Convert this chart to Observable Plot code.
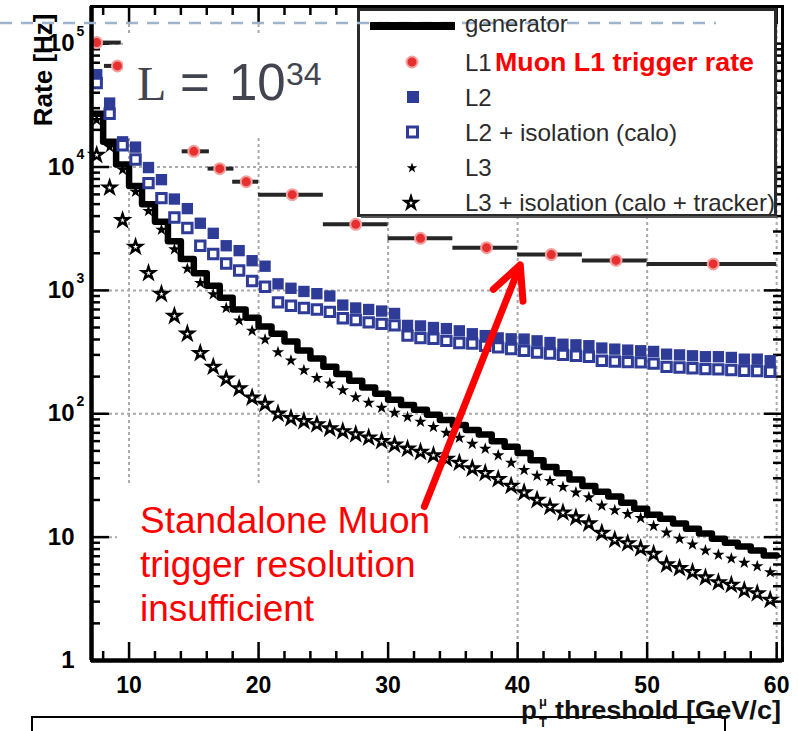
<!DOCTYPE html>
<html><head><meta charset="utf-8">
<script src="https://cdn.jsdelivr.net/npm/d3@7"></script>
<script src="https://cdn.jsdelivr.net/npm/@observablehq/plot@0.6"></script>
<style>
html,body{margin:0;padding:0;background:#fff;}
#wrap{position:relative;width:798px;height:731px;overflow:hidden;font-family:"Liberation Sans",Arial,sans-serif;background:#fff;}
#wrap > svg{position:absolute;left:0;top:0;}
</style></head><body><div id="wrap"></div>
<script>
// ---- data ----
const binCenters = [7.5,8.5,9.5,10.5,11.5,12.5,13.5,14.5,15.5,16.5,17.5,18.5,19.5,20.5,21.5,22.5,23.5,24.5,25.5,26.5,27.5,28.5,29.5,30.5,31.5,32.5,33.5,34.5,35.5,36.5,37.5,38.5,39.5,40.5,41.5,42.5,43.5,44.5,45.5,46.5,47.5,48.5,49.5,50.5,51.5,52.5,53.5,54.5,55.5,56.5,57.5,58.5,59.5];
const generator = [27000,16000,10500,7000,5000,3600,2500,1800,1380,1090,870,700,600,510,445,385,325,280,240,210,185,163,145,130,118,108,98,89,81,74,68,60,54,48,42,37,33,29.3,26,23.3,21.3,19,17,15.2,14.1,12.9,11.7,10.7,9.7,9.0,8.4,7.8,7.1];
const l2 = [56000,33000,16000,14500,9900,7900,5500,4600,3500,2900,2300,2100,1740,1570,1130,1040,980,940,900,760,720,700,680,650,520,515,500,490,470,445,430,412,405,403,390,378,366,362,356,341,334,328,324,320,304,300,295,290,290,286,277,277,269];
const l2iso = [48000,27000,15000,11500,7400,5600,3900,3200,2300,1970,1650,1450,1190,1070,800,750,720,700,670,595,575,550,535,520,430,410,405,390,375,370,355,345,335,324,314,308,300,295,290,269,265,262,261,255,240,237,234,230,229,226,223,222,219];
const l3 = [24000,14500,9500,6300,4400,3100,2150,1500,1150,930,720,570,470,400,315,270,225,195,176,155,136,123,112,102,94,86,78,70,64,57,52,46,40,35,31.5,28.5,25.5,23,21,18,16.5,15.4,14.3,12.3,10.9,9.7,8.7,7.8,7.2,6.7,6.2,5.8,5.2];
const l3iso = [12500,6800,3700,2250,1380,935,620,445,310,240,192,160,135,120,100,92,87,82,76,72,68,64,60,56,52,49,46,43,40,36,33,29.5,26,23,20,17.6,15.8,14.4,12.9,10.8,9.5,8.9,8.1,7.3,6.0,5.6,5.2,4.7,4.3,4.1,3.7,3.5,3.1];
// L1 trigger rate: marker position, value, bin low, bin high
const l1X    = [7.5, 9.1, 15.0, 17.0, 19.05, 22.6, 27.5, 32.5, 37.6, 42.6, 47.6, 55.1];
const l1Rate = [102000, 66000, 13400, 9700, 7600, 5970, 3430, 2640, 2220, 1950, 1750, 1640];
const l1Lo   = [7.1, 8.1, 14.1, 16.1, 18.0, 20.0, 25, 30, 35, 40, 45, 50];
const l1Hi   = [9.4, 9.4, 16.2, 18.1, 20.0, 25.0, 30, 35, 40, 45, 50, 60];
// axes
const xMajor = [10,20,30,40,50,60];
const xMinor = [8,12,14,16,18,22,24,26,28,32,34,36,38,42,44,46,48,52,54,56,58];
const yMajor = [1,10,100,1000,10000,100000];
const yLabels = ["1","10","10","10","10","10"];
const yExp = ["","","2","3","4","5"];
const yMinor = [2,3,4,5,6,7,8,9,20,30,40,50,60,70,80,90,200,300,400,500,600,700,800,900,2000,3000,4000,5000,6000,7000,8000,9000,20000,30000,40000,50000,60000,70000,80000,90000];
// annotation arrow (data coords)
const arrowTail = {x: 32.8, y: 17.7};
const arrowTip  = {x: 40.2, y: 1610};

// ---- tables ----
const genStep = binCenters.map((c,i)=>({x:c-0.5, y:generator[i]})).concat([{x:binCenters[binCenters.length-1]+0.5, y:generator[generator.length-1]}]);
const rows = binCenters.map((c,i)=>({x:c, l2:l2[i], l2iso:l2iso[i], l3:l3[i], l3iso:l3iso[i]}));
const l1 = l1X.map((x,i)=>({x, v:l1Rate[i], lo:l1Lo[i], hi:l1Hi[i]}));

const W=798, H=731, mL=91, mR=16, mT=6, mB=71;
const plotW = W-mL-mR, plotH = H-mT-mB;
const xDom = [7.1, 60.45], yDom = [1, 2e5];
const blue = "#2e3b97", grid = {stroke:"#a9a9a9", strokeWidth:2, strokeDasharray:"3,3"};
const font = "Liberation Sans, Arial, sans-serif";

const main = Plot.plot({
  width:W, height:H, marginLeft:mL, marginRight:mR, marginTop:mT, marginBottom:mB,
  style:{fontFamily:font, background:"white", color:"black"},
  x:{domain:xDom, axis:null},
  y:{type:"log", domain:yDom, axis:null},
  marks:[
    Plot.ruleX(xMajor, grid),
    Plot.ruleY(yMajor.slice(1), grid),
    // ticks inward
    Plot.tickY(yMajor, {y:d=>d, insetRight:plotW-18, stroke:"black", strokeWidth:2.5}),
    Plot.tickY(yMinor, {y:d=>d, insetRight:plotW-9, stroke:"black", strokeWidth:2.5}),
    Plot.tickY(yMajor, {y:d=>d, insetLeft:plotW-18, stroke:"black", strokeWidth:2.5}),
    Plot.tickY(yMinor, {y:d=>d, insetLeft:plotW-9, stroke:"black", strokeWidth:2.5}),
    Plot.tickX(xMajor, {x:d=>d, insetTop:plotH-18, stroke:"black", strokeWidth:2.5}),
    Plot.tickX(xMinor, {x:d=>d, insetTop:plotH-9, stroke:"black", strokeWidth:2.5}),
    Plot.tickX(xMajor, {x:d=>d, insetBottom:plotH-18, stroke:"black", strokeWidth:2.5}),
    Plot.tickX(xMinor, {x:d=>d, insetBottom:plotH-9, stroke:"black", strokeWidth:2.5}),
    // data
    Plot.ruleY(l1, {y:"v", x1:"lo", x2:"hi", stroke:"#262626", strokeWidth:4, clip:true}),
    Plot.line(genStep, {x:"x", y:"y", curve:"step-after", stroke:"black", strokeWidth:6.5, clip:true}),
    Plot.dot(rows, {x:"x", y:"l3iso", symbol:"star", r:3.9, fill:"white", stroke:"black", strokeWidth:2.4}),
    Plot.dot(rows, {x:"x", y:"l3", symbol:"star", r:3.9, fill:"black"}),
    Plot.dot(rows, {x:"x", y:"l2", symbol:"square", r:6.4, fill:blue}),
    Plot.dot(rows, {x:"x", y:"l2iso", symbol:"square", r:5.3, fill:"white", stroke:blue, strokeWidth:3}),
    Plot.dot(l1, {x:"x", y:"v", r:5.5, fill:"#e63030", stroke:"#f2a0a0", strokeWidth:2}),
    // frame & axes
    Plot.frame({stroke:"black", strokeWidth:3}),
    Plot.ruleX([xDom[0]], {stroke:"black", strokeWidth:4.5}),
    Plot.ruleY([yDom[0]], {stroke:"black", strokeWidth:4.5}),
    Plot.text(yMajor, {y:d=>d, frameAnchor:"left", dx:-17, textAnchor:"end", text:(d,i)=>yLabels[i], fontSize:24, fontWeight:"bold"}),
    Plot.text(yMajor, {y:d=>d, frameAnchor:"left", dx:-15, dy:-12, textAnchor:"start", text:(d,i)=>yExp[i], fontSize:14, fontWeight:"bold"}),
    Plot.text(xMajor, {x:d=>d, frameAnchor:"bottom", dy:32, text:d=>String(d), fontSize:23, fontWeight:"bold"}),
    Plot.text(["Rate [Hz]"], {frameAnchor:"top-left", dx:-58, dy:7, rotate:-90, textAnchor:"end", text:d=>d, fontSize:26, fontWeight:"bold"})
  ]
});
document.getElementById("wrap").appendChild(main);

// ---- overlay: slide annotations, legend ----
const sym = (type, size) => d3.symbol(type, size)();
const legendText = "#2b2b2b";
const ov = `
<svg width="${W}" height="${H}" xmlns="http://www.w3.org/2000/svg" style="font-family:${font}">
  <rect x="123" y="33" width="234" height="103" fill="white"/>
  <rect x="117" y="485" width="342" height="157" fill="white"/>
  <rect x="358.5" y="9.5" width="417" height="206" fill="white" stroke="#2a2a2a" stroke-width="3"/>
  <line x1="361" y1="217" x2="777" y2="217" stroke="#555" stroke-width="2"/>
  <line x1="0" y1="23" x2="716" y2="23" stroke="#9db4cc" stroke-width="2.5" stroke-dasharray="12,9"/>
  <line x1="370" y1="26" x2="455" y2="26" stroke="black" stroke-width="8"/>
  <circle cx="412" cy="62" r="5.5" fill="#e63030" stroke="#f2a0a0" stroke-width="2"/>
  <rect x="407" y="91" width="12" height="12" fill="${blue}"/>
  <rect x="407.5" y="127" width="10" height="10" fill="white" stroke="${blue}" stroke-width="3"/>
  <path transform="translate(412,168)" d="${sym(d3.symbolStar, 34)}" fill="black"/>
  <path transform="translate(411,203)" d="${sym(d3.symbolStar, 44)}" fill="white" stroke="black" stroke-width="2.4"/>
  <g font-size="24" fill="${legendText}">
    <text x="465" y="32">generator</text>
    <text x="465" y="71">L1</text>
    <text x="465" y="106">L2</text>
    <text x="465" y="141" textLength="212" lengthAdjust="spacingAndGlyphs">L2 + isolation (calo)</text>
    <text x="465" y="176">L3</text>
    <text x="465" y="211" textLength="310" lengthAdjust="spacingAndGlyphs">L3 + isolation (calo + tracker)</text>
  </g>
  <text x="495" y="71" font-size="25" font-weight="bold" fill="#ff0000" textLength="259" lengthAdjust="spacingAndGlyphs">Muon L1 trigger rate</text>
  <g fill="#42444f">
    <text x="137" y="100" font-family="Liberation Serif, Times New Roman, serif" font-size="48">L</text>
    <text x="180" y="100" font-size="51">=</text>
    <text x="229" y="100" font-size="51">10</text>
    <text x="286" y="85" font-size="32">34</text>
  </g>
  <g fill="#ff0000" font-size="37">
    <text x="140" y="533">Standalone Muon</text>
    <text x="140" y="577">trigger resolution</text>
    <text x="140" y="621">insufficient</text>
  </g>
  <rect x="32" y="717" width="693" height="40" fill="none" stroke="black" stroke-width="2"/>
  <g font-weight="bold" fill="#111">
    <text x="521" y="719" font-size="26">p</text>
    <text x="539" y="727" font-size="13">T</text>
    <text x="539" y="706" font-size="13">μ</text>
    <text x="555" y="719" font-size="26" textLength="226" lengthAdjust="spacingAndGlyphs">threshold [GeV/c]</text>
  </g>
</svg>`;
document.getElementById("wrap").insertAdjacentHTML("beforeend", ov);

// ---- arrow overlay through the same scales ----
const arrowPlot = Plot.plot({
  width:W, height:H, marginLeft:mL, marginRight:mR, marginTop:mT, marginBottom:mB,
  style:{background:"transparent"},
  x:{domain:xDom, axis:null},
  y:{type:"log", domain:yDom, axis:null},
  marks:[
    Plot.arrow([{x1:arrowTail.x, y1:arrowTail.y, x2:arrowTip.x, y2:arrowTip.y}], {x1:"x1", y1:"y1", x2:"x2", y2:"y2", stroke:"#ff0000", strokeWidth:7, headAngle:52, headLength:7.8})
  ]
});
document.getElementById("wrap").appendChild(arrowPlot);
</script></body></html>
